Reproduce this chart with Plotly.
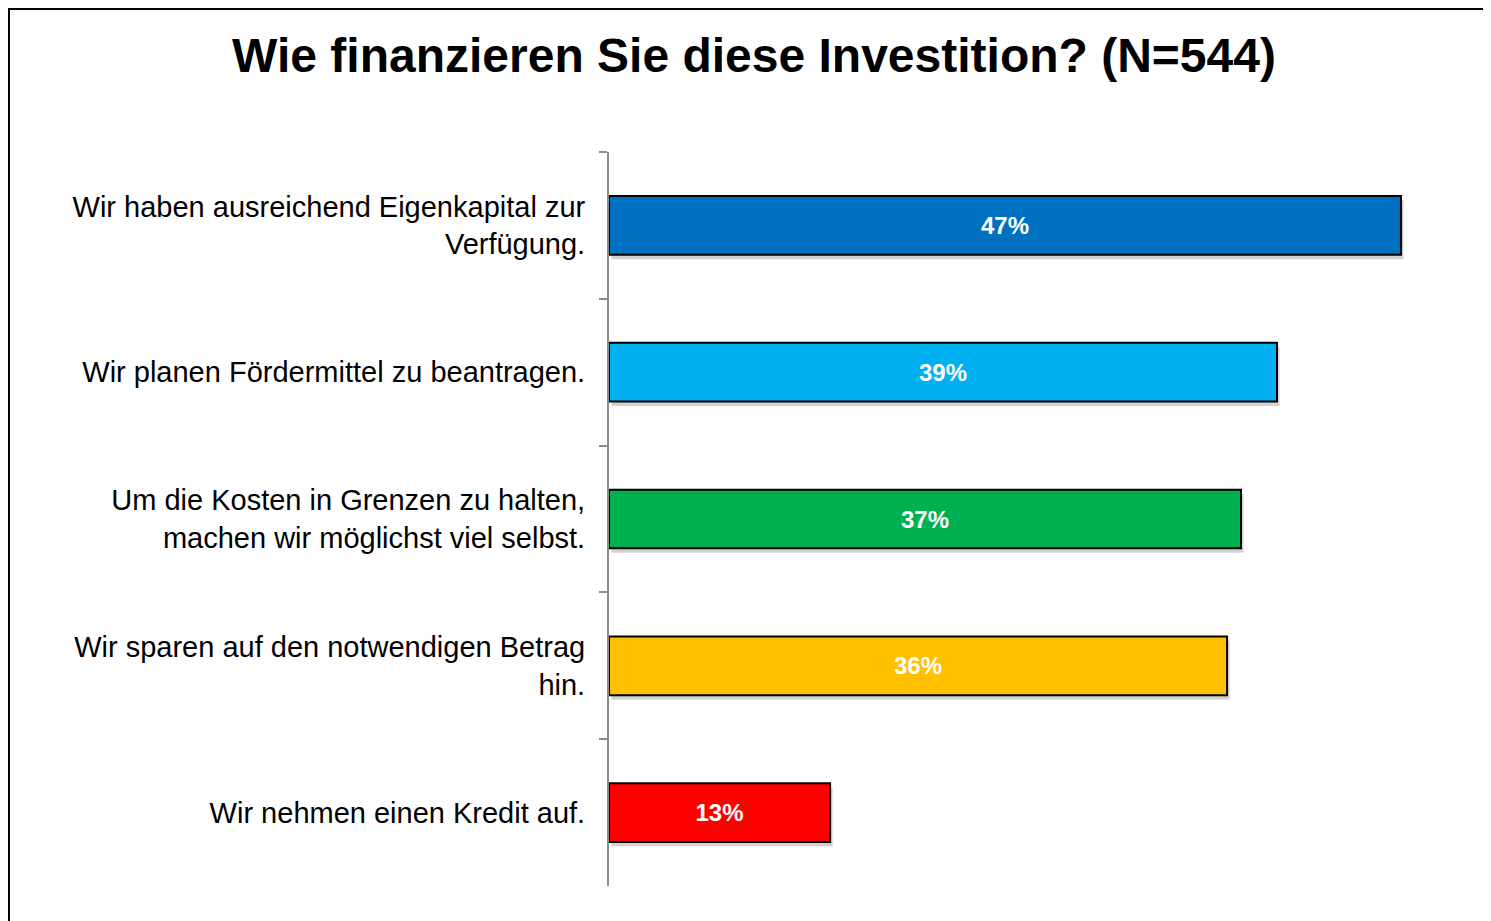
import plotly.graph_objects as go

categories = [
    "Wir haben ausreichend Eigenkapital zur<br>Verfügung.",
    "Wir planen Fördermittel zu beantragen.",
    "Um die Kosten in Grenzen zu halten,<br>machen wir möglichst viel selbst.",
    "Wir sparen auf den notwendigen Betrag<br>hin.",
    "Wir nehmen einen Kredit auf.",
]
values = [46.64, 39.34, 37.22, 36.40, 13.02]
value_labels = ["47%", "39%", "37%", "36%", "13%"]
colors = ["#0070C0", "#00B0F0", "#00B050", "#FFC000", "#FF0000"]

# page is offset by the 8px body margin
W, H = 1483, 913
L, R, T, B = 601, 33, 144, 35
pw, ph = W - L - R, H - T - B

FONT = "Liberation Sans, Arial, sans-serif"

fig = go.Figure()
# soft shadow
fig.add_trace(go.Bar(
    y=categories, x=values, orientation="h", base=0.15,
    width=0.4, offset=-0.17,
    marker=dict(color="rgba(0,0,0,0.18)", line=dict(width=0)),
    hoverinfo="skip", showlegend=False,
))
fig.add_trace(go.Bar(
    y=categories, x=values, orientation="h",
    width=0.4, offset=-0.2,
    marker=dict(color=colors, line=dict(color="#000000", width=2)),
    text=value_labels, textposition="inside", insidetextanchor="middle",
    textfont=dict(family=FONT, size=24, color="white", weight="bold"),
    textangle=0,
    showlegend=False,
))

fig.update_layout(
    width=W, height=H,
    margin=dict(l=L, r=R, t=T, b=B),
    paper_bgcolor="white", plot_bgcolor="white",
    barmode="overlay",
    title=dict(
        text="<b>Wie finanzieren Sie diese Investition? (N=544)</b>",
        x=746 / W, xanchor="center", y=1 - 47 / H, yanchor="middle",
        font=dict(family=FONT, size=48, color="black"),
    ),
    xaxis=dict(range=[0, 50], visible=False, fixedrange=True),
    yaxis=dict(
        autorange="reversed", type="category",
        showline=True, linecolor="#8c8c8c", linewidth=2,
        ticks="outside", ticklen=8, tickcolor="#8c8c8c", tickwidth=2,
        tickson="boundaries", ticklabelstandoff=16,
        tickfont=dict(family=FONT, size=29, color="black"),
        showgrid=False, zeroline=False,
    ),
    shapes=[dict(
        type="rect", xref="paper", yref="paper",
        x0=(1 - L) / pw, x1=(W + 20 - L) / pw,
        y0=-(H + 20 - T - ph) / ph, y1=1 + (T - 1) / ph,
        line=dict(color="black", width=2), fillcolor="rgba(0,0,0,0)", layer="below",
    )],
)

fig.write_html("out.html")
